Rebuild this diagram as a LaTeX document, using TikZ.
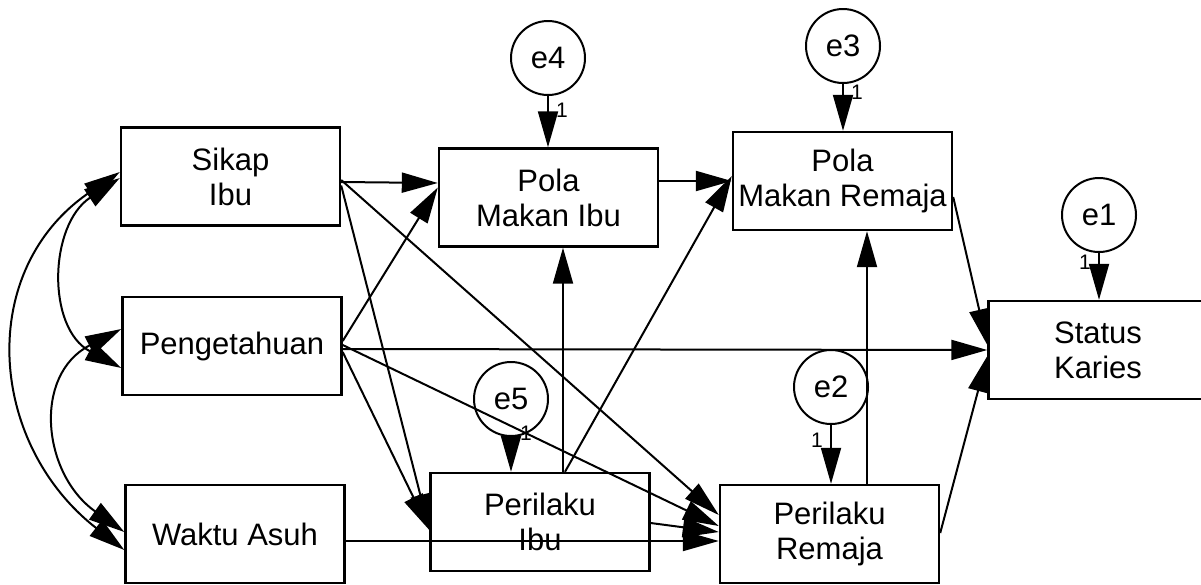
\documentclass[tikz,border=0pt]{standalone}
\usepackage{fontspec}
\setmainfont{Liberation Sans}
\usetikzlibrary{arrows.meta,calc}
\begin{document}
\begin{tikzpicture}[x=1pt,y=-1pt,
  var/.style={draw, line width=2.4pt, rectangle, minimum width=219pt, minimum height=98pt, inner sep=0pt, align=center, font=\fontsize{31}{35}\selectfont},
  err/.style={draw, circle, line width=2pt, minimum size=74pt, inner sep=0pt, font=\fontsize{31}{35}\selectfont},
  arr/.style={line width=2pt, -{Triangle[length=36pt,width=20pt]}},
  cov/.style={line width=2pt, {Triangle[length=36pt,width=20pt]}-{Triangle[length=36pt,width=20pt]}},
  wt/.style={font=\fontsize{21}{21}\selectfont, inner sep=0pt}
]
\useasboundingbox (0,0) rectangle (1201,584);

% observed variables
\node[var] (sikap) at (230.5,176.5) {Sikap\\Ibu};
\node[var] (peng)  at (232,346)     {Pengetahuan};
\node[var] (waktu) at (235,534)     {Waktu Asuh};
\node[var] (pmi)   at (548.5,197.5) {Pola\\Makan Ibu};
\node[var] (pmr)   at (842.5,181)   {Pola\\Makan Remaja};
\node[var] (sk)    at (1098,350)    {Status\\Karies};
\node[var] (pi)    at (540,522)     {Perilaku\\Ibu};
\node[var] (pr)    at (829.5,534)   {Perilaku\\Remaja};

% error terms
\node[err] (e4) at (548,58)   {e4};
\node[err] (e3) at (843,46)   {e3};
\node[err] (e1) at (1099,215) {e1};
\node[err] (e5) at (511,399)  {e5};
\node[err] (e2) at (831,387)  {e2};

\draw[arr] (e4.south) -- (e4.south |- pmi.north);
\draw[arr] (e3.south) -- (e3.south |- pmr.north);
\draw[arr] (e1.south) -- (e1.south |- sk.north);
\draw[arr] (e5.south) -- (e5.south |- pi.north);
\draw[arr] (e2.south) -- (e2.south |- pr.north);

\node[wt] (w4) at (562,110) {1};
\node[wt] (w3) at (857,92)  {1};
\node[wt] (w1) at (1085,262) {1};
\node[wt] (w5) at (526,433) {1};
\node[wt] (w2) at (817,440) {1};

% paths
\draw[arr] ($(sikap.east)+(0,5.5)$) -- ($(pmi.west)+(0,-14.5)$);
\draw[arr] ($(sikap.east)+(0,3.5)$) -- ($(pr.west)+(0,-19)$);
\draw[arr] ($(sikap.east)+(0,9)$)   -- ($(pi.west)+(0,8)$);
\draw[arr] ($(peng.east)+(0,-5)$)   -- ($(pmi.west)+(0,-10)$);
\draw[arr] ($(peng.east)+(0,3)$)    -- (sk.west);
\draw[arr] ($(peng.east)+(0,-1)$)   -- ($(pr.west)+(0,-8)$);
\draw[arr] ($(peng.east)+(0,6)$)    -- ($(pi.west)+(0,8)$);
\draw[arr] ($(waktu.east)+(0,7)$)   -- ($(pr.west)+(0,7)$);
\draw[arr] ($(pmi.east)+(0,-16.5)$) -- (pmr.west);
\draw[arr] ($(pi.north)+(23,0)$)    -- ($(pmi.south)+(14.5,0)$);
\draw[arr] ($(pi.north)+(25,0)$)    -- ($(pmr.west)+(0,-5)$);
\draw[arr] ($(pi.east)+(0,1)$)      -- ($(pr.west)+(0,-2)$);
\draw[arr] ($(pr.north)+(37.5,0)$)  -- ($(pmr.south)+(24.5,0)$);
\draw[arr] ($(pr.east)+(0,-1)$)     -- ($(sk.west)+(0,6)$);
\draw[arr] ($(pmr.east)+(0,16)$)    -- ($(sk.west)+(0,-5)$);

% covariances
\draw[cov] ($(sikap.west)+(0,1.5)$) .. controls +(-71,47) and +(-75,-40) .. ($(peng.west)+(0,22)$);
\draw[cov] ($(peng.west)+(0,-17)$) .. controls +(-89,46) and +(-82,-58) .. ($(waktu.west)+(0,-2)$);
\draw[cov] ($(sikap.west)+(0,-4.5)$) .. controls +(-144,97) and +(-137,-107) .. ($(waktu.west)+(0,16)$);
\end{tikzpicture}
\end{document}
